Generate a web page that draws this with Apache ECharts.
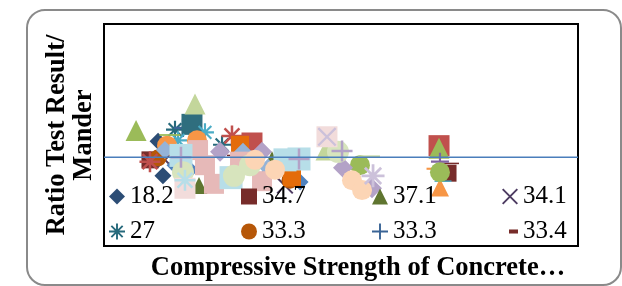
<!DOCTYPE html>
<html><head><meta charset="utf-8">
<script src="https://cdn.jsdelivr.net/npm/echarts@6/dist/echarts.min.js"></script>
<style>html,body{margin:0;padding:0;background:#fff}#c{width:622px;height:286px}</style>
</head><body><div id="c"></div><script>
// ---- axis ranges (hidden axes) ----
const xMin = 10, xMax = 60;
const yMin = 0, yMax = 2.5;
const refLineY = 1;

// ---- series names (legend shows first 8) ----
const seriesNames = ['18.2','34.7','37.1','34.1','27','33.3','33.3 ','33.4',
  's9','s10','s11','s12','s13','s14','s15','s16','s17','s18','s19','s20','s21','s22',
  's24','s25','s26','s27','s28','s29','s30','s31','s32','s33','s34','s35','s36'];

// ---- series values [compressive strength, ratio] ----
const d01 = [[15.70,1.18],[16.22,0.79]];
const d02 = [[14.85,0.97],[46.29,0.82]];
const d03 = [[20.02,0.68],[27.72,0.97]];
const d04 = [[16.43,0.97],[29.09,0.68]];
const d05 = [[17.49,1.31],[22.45,1.14]];
const d06 = [[15.70,0.99],[29.62,0.74]];
const d07 = [[18.33,1.33],[23.61,0.86]];
const d08 = [[23.92,1.02],[46.50,0.93]];
const d09 = [[19.28,1.37]];
const d10 = [[19.07,0.86],[27.30,0.81],[30.68,0.72],[17.49,0.91]];
const d11 = [[25.61,1.16],[45.34,1.13]];
const d12 = [[13.38,1.30],[45.34,1.10]];
const d13 = [[45.44,0.95],[25.19,0.97]];
const d14 = [[17.81,1.19],[20.65,1.28]];
const d15 = [[16.65,1.13],[19.81,1.19],[28.78,0.91]];
const d16 = [[23.50,1.24],[14.85,0.95]];
const d17 = [[24.35,1.14],[29.83,0.77]];
const d18 = [[16.96,1.25]];
const d19 = [[45.13,0.87]];
const d20 = [[45.76,0.73]];
const d21 = [[45.44,0.66]];
const d22 = [[45.44,0.83],[37.00,0.91]];
const d24 = [[24.66,1.06],[27.30,0.88],[16.43,1.08]];
const d25 = [[19.92,1.08],[21.60,0.70],[26.67,0.73],[20.65,0.91],[24.35,0.95]];
const d26 = [[19.60,1.60],[33.42,1.08]];
const d27 = [[22.24,1.06],[35.21,0.88],[38.27,0.65],[26.67,1.06]];
const d28 = [[18.12,1.02],[30.57,0.98],[23.40,0.77],[29.09,0.97]];
const d29 = [[18.33,0.83],[23.71,0.79],[34.68,1.06],[25.40,0.91]];
const d30 = [[25.93,0.97],[36.16,0.74],[37.22,0.63],[28.04,0.86]];
const d31 = [[33.52,1.23],[18.54,0.65]];
const d32 = [[33.52,1.23]];
const d33 = [[30.57,0.98],[35.11,1.07],[18.12,1.00]];
const d34 = [[38.38,0.79]];
const d35 = [[37.95,1.01]];
const d36 = [[18.54,0.74]];
const seriesData = [d01,d02,d03,d04,d05,d06,d07,d08,d09,d10,d11,d12,d13,d14,d15,d16,d17,d18,d19,d20,d21,d22,
  d24,d25,d26,d27,d28,d29,d30,d31,d32,d33,d34,d35,d36];

// ---- marker styles (parallel to seriesData) ----
const seriesStyle = [
  {sym:'diamond', color:'#2C4D75', size:17},
  {sym:'rect', color:'#772C2A', size:17},
  {sym:'triangle', color:'#5F7530', size:17},
  {sym:'cross', color:'#4D3B62', size:17},
  {sym:'star', color:'#276A7C', size:18},
  {sym:'circle', color:'#B65708', size:17},
  {sym:'plus', color:'#3A6496', size:18},
  {sym:'dash', color:'#772C2A', size:[18,5]},
  {sym:'rect', color:'#2F6E7E', size:21},
  {sym:'diamond', color:'#4F81BD', size:17},
  {sym:'rect', color:'#C0504D', size:21},
  {sym:'triangle', color:'#9BBB59', size:21},
  {sym:'plus', color:'#8064A2', size:18},
  {sym:'star', color:'#4BACC6', size:18},
  {sym:'circle', color:'#F79646', size:20},
  {sym:'star', color:'#C0504D', size:21},
  {sym:'rect', color:'#E46C0A', size:18},
  {sym:'dash', color:'#9BBB59', size:[21,6]},
  {sym:'dash', color:'#F79646', size:[21,7]},
  {sym:'dash', color:'#4BACC6', size:[17,5]},
  {sym:'triangle', color:'#F79646', size:18},
  {sym:'circle', color:'#9BBB59', size:20},
  {sym:'diamond', color:'#95B3D7', size:18},
  {sym:'rect', color:'#E6B9B8', size:20},
  {sym:'triangle', color:'#C3D69B', size:21},
  {sym:'diamond', color:'#B3A2C7', size:20},
  {sym:'rect', color:'#B7DEE8', size:23},
  {sym:'circle', color:'#D7E4BD', size:22},
  {sym:'circle', color:'#FCD5B5', size:20},
  {sym:'rect', color:'#F2DCDB', size:21},
  {sym:'cross', color:'#CCC1DA', size:19},
  {sym:'plus', color:'#B3A2C7', size:21},
  {sym:'star', color:'#CCC1DA', size:23},
  {sym:'dash', color:'#C3D69B', size:[22,6]},
  {sym:'star', color:'#B7DEE8', size:21}
];

const PATHS = {
  plus: 'path://M4.4,0H5.6V10H4.4Z M0,4.4H10V5.6H0Z',
  cross: 'path://M0,0.85L0.85,0L10,9.15L9.15,10Z M9.15,0L10,0.85L0.85,10L0,9.15Z',
  star: 'path://M4.4,0H5.6V10H4.4Z M0,4.4H10V5.6H0Z M1.04,1.88L1.88,1.04L8.96,8.12L8.12,8.96Z M8.12,1.04L8.96,1.88L1.88,8.96L1.04,8.12Z',
  dash: 'path://M0,0H10V3H0Z'
};

const SERIF = '"Liberation Serif","Times New Roman",serif';

const legendItems = [
  {name:'18.2', left:109, top:184},
  {name:'34.7', left:241, top:184},
  {name:'37.1', left:372, top:184},
  {name:'34.1', left:502, top:184},
  {name:'27', left:109, top:219},
  {name:'33.3', left:241, top:219},
  {name:'33.3 ', left:372, top:219},
  {name:'33.4', left:509, top:219, w:9, h:9, icon:'path://M0,0H10V4.5H0Z'}
];

const series = seriesData.map((d, i) => {
  const st = seriesStyle[i];
  return {
    type: 'scatter', name: seriesNames[i], data: d,
    symbol: PATHS[st.sym] || st.sym, symbolSize: st.size, symbolKeepAspect: true,
    itemStyle: {color: st.color, opacity: 1},
    emphasis: {disabled: true}, silent: true, z: 2
  };
});
series.push({
  type: 'line', name: 'ref', data: [[xMin, refLineY], [xMax, refLineY]],
  symbol: 'none', lineStyle: {color: '#4A7EBB', width: 1.5}, silent: true, z: 5, animation: false
});

const chart = echarts.init(document.getElementById('c'), null, {renderer: 'canvas'});
chart.setOption({
  backgroundColor: '#fff',
  animation: false,
  grid: {left: 104, top: 24, right: 44, bottom: 40, show: true, borderColor: '#000', borderWidth: 2, backgroundColor: 'transparent'},
  xAxis: {type: 'value', min: xMin, max: xMax, axisLine: {show: false}, axisTick: {show: false}, axisLabel: {show: false}, splitLine: {show: false}},
  yAxis: {type: 'value', min: yMin, max: yMax, axisLine: {show: false}, axisTick: {show: false}, axisLabel: {show: false}, splitLine: {show: false}},
  legend: legendItems.map(l => ({
    data: [l.icon ? {name: l.name, icon: l.icon} : l.name],
    left: l.left, top: l.top, padding: 0, itemGap: 0,
    itemWidth: l.w || 16, itemHeight: l.h || 16,
    selectedMode: false,
    formatter: n => n.trim(),
    textStyle: {fontFamily: SERIF, fontSize: 25, color: '#000', lineHeight: 25}
  })),
  graphic: [
    {type: 'rect', silent: true, shape: {x: 27, y: 10, width: 594, height: 275, r: 18},
     style: {fill: 'none', stroke: '#8a8a8a', lineWidth: 2}},
    {type: 'text', silent: true, x: 71, y: 135, rotation: Math.PI / 2,
     style: {text: 'Ratio Test Result/\nMander', fontFamily: SERIF, fontWeight: 'bold', fontSize: 26.5, lineHeight: 27,
             fill: '#000', align: 'center', verticalAlign: 'middle'}},
    {type: 'text', silent: true, x: 358, y: 268,
     style: {text: 'Compressive Strength of Concrete…', fontFamily: SERIF, fontWeight: 'bold', fontSize: 26.5,
             fill: '#000', align: 'center', verticalAlign: 'middle'}}
  ],
  series: series
});
</script></body></html>
